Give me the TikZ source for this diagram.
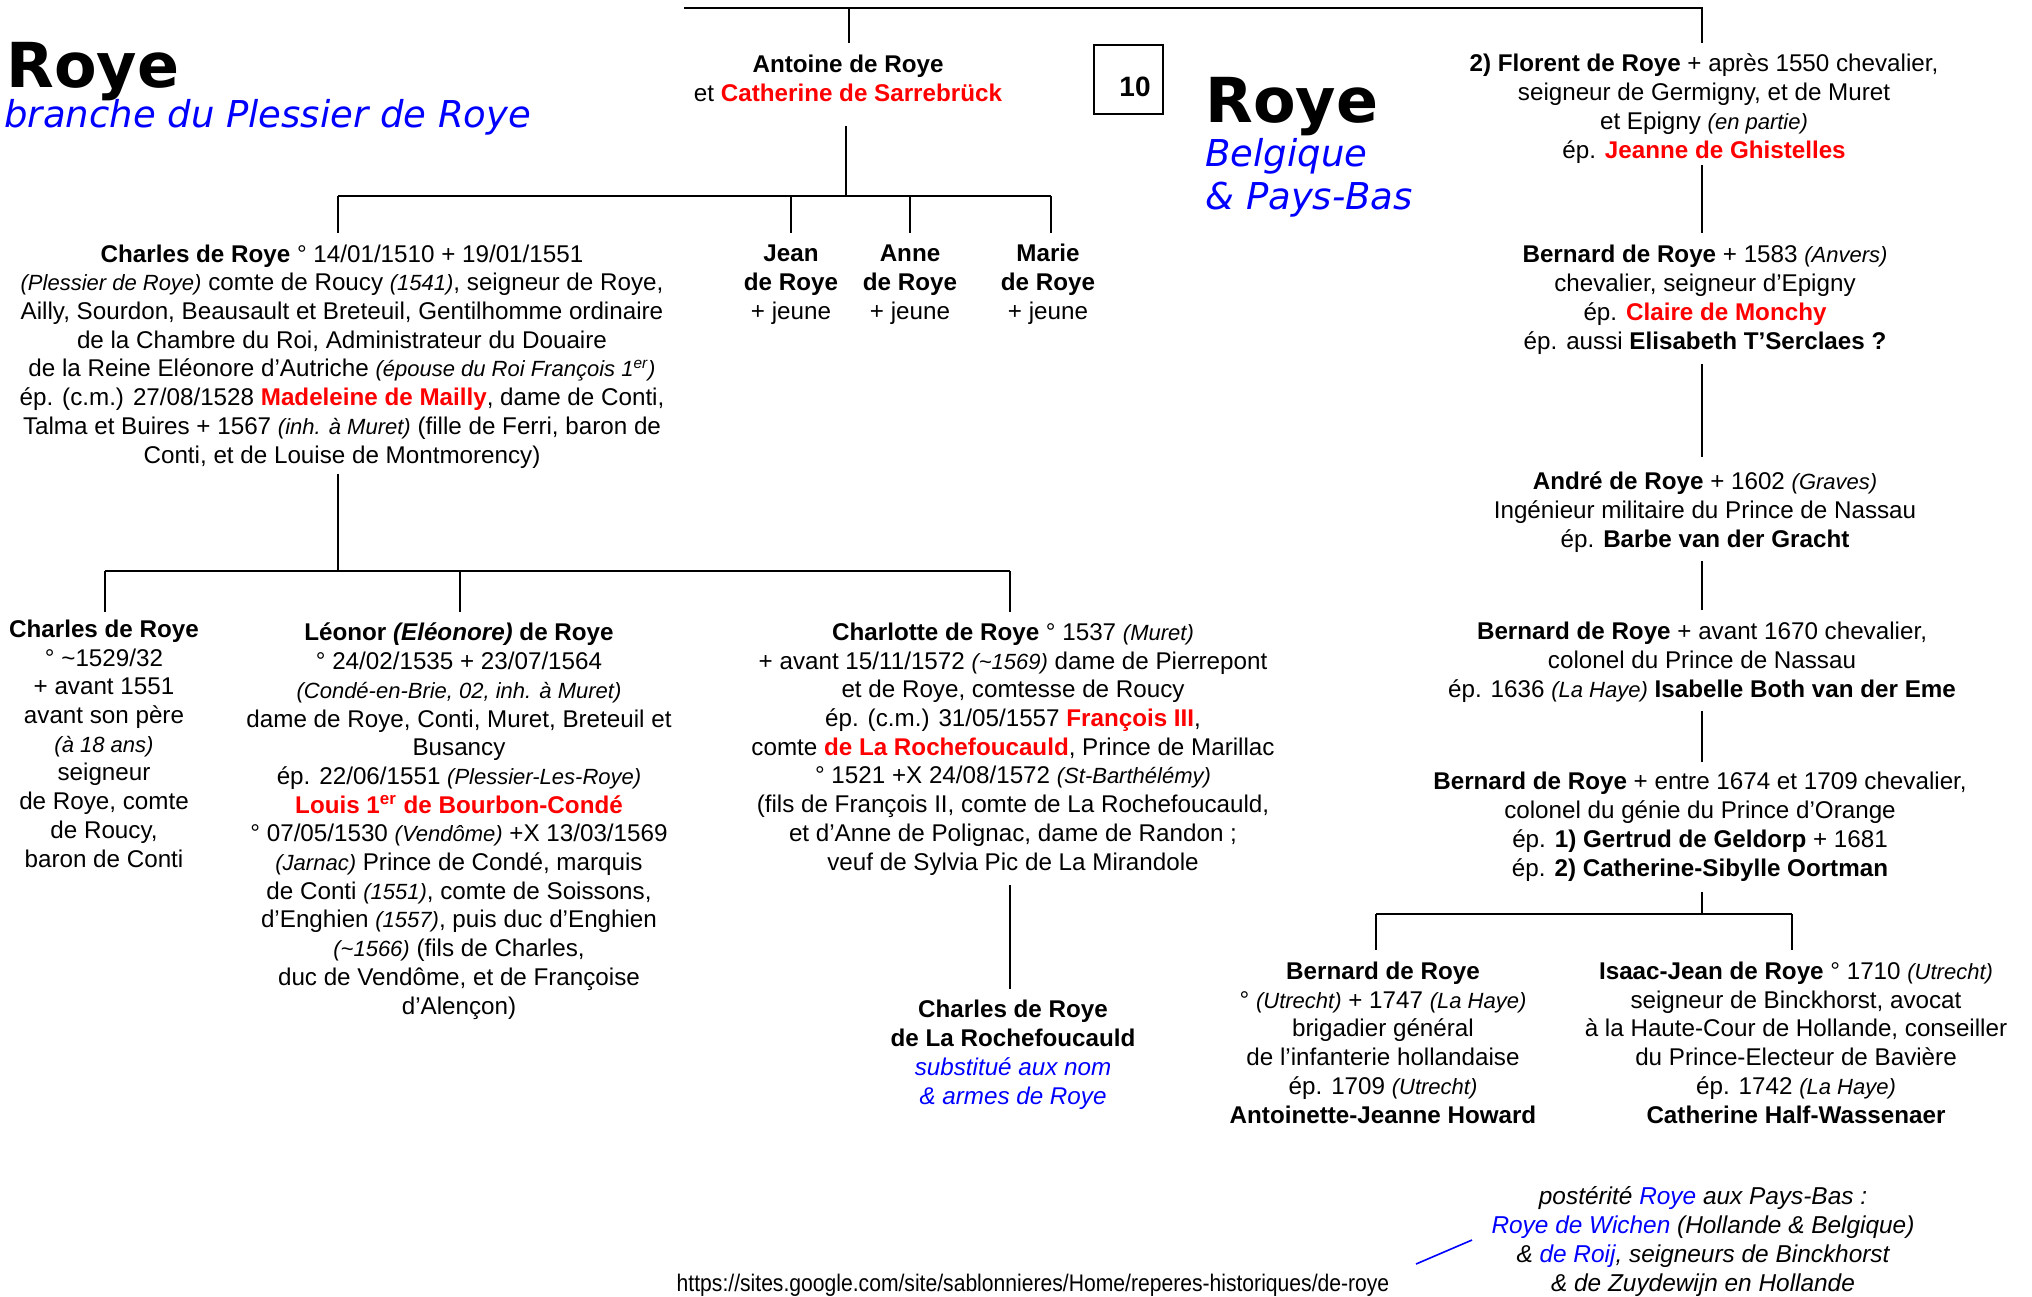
\documentclass[tikz,border=0pt]{standalone}
\usepackage{fontspec}
\setmainfont{Liberation Sans}
\newfontfamily\titlefont{DejaVu Sans}
\newfontfamily\narrowfont[FakeStretch=0.88]{Liberation Sans}
\usepackage{tikz}
\usetikzlibrary{positioning}
\definecolor{rougeroye}{HTML}{FF0000}
\definecolor{bleuroye}{HTML}{0000FF}
\newcommand{\nom}[1]{\textbf{#1}}
\newcommand{\rouge}[1]{\textcolor{rougeroye}{\textbf{#1}}}
\newcommand{\bleu}[1]{\textcolor{bleuroye}{#1}}
\newcommand{\lieu}[1]{{\fontsize{11}{14.35}\selectfont\itshape #1}}

\begin{document}
\begin{tikzpicture}[
  x=0.5pt, y=-0.5pt,
  every node/.style={font=\fontsize{12.1}{14.35}\selectfont},
  person/.style={align=center, inner sep=0pt, anchor=base},
  bigtitle/.style={font=\titlefont\bfseries\fontsize{31}{31}\selectfont, inner sep=0pt, anchor=base west},
  subtitle/.style={font=\titlefont\itshape\fontsize{18.5}{21.5}\selectfont, text=bleuroye, inner sep=0pt, anchor=base west, align=left},
  numbox/.style={draw, line width=0.8pt, minimum width=34.5pt, minimum height=34.5pt, inner sep=0pt},
  numtext/.style={font=\bfseries\fontsize{14}{14}\selectfont, inner sep=0pt, anchor=base},
  tree/.style={line width=1.2pt},
]
  \useasboundingbox (0,0) rectangle (2032,1296);

  \node[bigtitle] (titre-g) at (6,87) {Roye};
  \node[subtitle] (branche) at (4,127) {branche du Plessier de Roye};
  \node[bigtitle] (titre-d) at (1205,122) {Roye};
  \node[subtitle] (pays) at (1205,209) {Belgique\\\& Pays-Bas};
  \node[numbox] (num) at (1128.5,79.5) {};
  \node[numtext] (num-texte) at (1135,96) {10};

  \node[person] (antoine) at (848,101) {\nom{Antoine de Roye}\\et \rouge{Catherine de Sarrebrück}};
  \node[person] (charles) at (342,463) {\nom{Charles de Roye} ° 14/01/1510 + 19/01/1551\\
    \lieu{(Plessier de Roye)} comte de Roucy \lieu{(1541)}, seigneur de Roye,\\
    Ailly, Sourdon, Beausault et Breteuil, Gentilhomme ordinaire\\
    de la Chambre du Roi, Administrateur du Douaire\\
    de la Reine Eléonore d’Autriche \lieu{(épouse du Roi François 1\textsuperscript{er})}\\
    ép. (c.m.) 27/08/1528 \rouge{Madeleine de Mailly}, dame de Conti,\\
    Talma et Buires + 1567 \lieu{(inh. à Muret)} (fille de Ferri, baron de\\
    Conti, et de Louise de Montmorency)};
  \node[person] (jean) at (791,319) {\nom{Jean}\\\nom{de Roye}\\+ jeune};
  \node[person] (anne) at (910,319) {\nom{Anne}\\\nom{de Roye}\\+ jeune};
  \node[person] (marie) at (1048,319) {\nom{Marie}\\\nom{de Roye}\\+ jeune};

  \node[person] (enfant) at (104,867) {\nom{Charles de Roye}\\° \textasciitilde1529/32\\+ avant 1551\\avant son père\\
    \lieu{(à 18 ans)}\\seigneur\\de Roye, comte\\de Roucy,\\baron de Conti};
  \node[person] (leonor) at (459,1014) {\nom{Léonor \textit{(Eléonore)} de Roye}\\
    ° 24/02/1535 + 23/07/1564\\
    \lieu{(Condé-en-Brie, 02, inh. à Muret)}\\
    dame de Roye, Conti, Muret, Breteuil et\\
    Busancy\\
    ép. 22/06/1551 \lieu{(Plessier-Les-Roye)}\\
    \rouge{Louis 1\textsuperscript{er} de Bourbon-Condé}\\
    ° 07/05/1530 \lieu{(Vendôme)} +X 13/03/1569\\
    \lieu{(Jarnac)} Prince de Condé, marquis\\
    de Conti \lieu{(1551)}, comte de Soissons,\\
    d’Enghien \lieu{(1557)}, puis duc d’Enghien\\
    \lieu{(\textasciitilde1566)} (fils de Charles,\\
    duc de Vendôme, et de Françoise\\
    d’Alençon)};
  \node[person] (charlotte) at (1013,870) {\nom{Charlotte de Roye} ° 1537 \lieu{(Muret)}\\
    + avant 15/11/1572 \lieu{(\textasciitilde1569)} dame de Pierrepont\\
    et de Roye, comtesse de Roucy\\
    ép. (c.m.) 31/05/1557 \rouge{François III},\\
    comte \rouge{de La Rochefoucauld}, Prince de Marillac\\
    ° 1521 +X 24/08/1572 \lieu{(St-Barthélémy)}\\
    (fils de François II, comte de La Rochefoucauld,\\
    et d’Anne de Polignac, dame de Randon ;\\
    veuf de Sylvia Pic de La Mirandole};
  \node[person] (rochefoucauld) at (1013,1104) {\nom{Charles de Roye}\\\nom{de La Rochefoucauld}\\
    \bleu{\textit{substitué aux nom}}\\\bleu{\textit{\& armes de Roye}}};

  \node[person] (florent) at (1704,158) {\nom{2) Florent de Roye} + après 1550 chevalier,\\
    seigneur de Germigny, et de Muret\\
    et Epigny \lieu{(en partie)}\\
    ép. \rouge{Jeanne de Ghistelles}};
  \node[person] (bernard1) at (1705,349) {\nom{Bernard de Roye} + 1583 \lieu{(Anvers)}\\
    chevalier, seigneur d’Epigny\\
    ép. \rouge{Claire de Monchy}\\
    ép. aussi \nom{Elisabeth T’Serclaes ?}};
  \node[person] (andre) at (1705,547) {\nom{André de Roye} + 1602 \lieu{(Graves)}\\
    Ingénieur militaire du Prince de Nassau\\
    ép. \nom{Barbe van der Gracht}};
  \node[person] (bernard2) at (1702,697) {\nom{Bernard de Roye} + avant 1670 chevalier,\\
    colonel du Prince de Nassau\\
    ép. 1636 \lieu{(La Haye)} \nom{Isabelle Both van der Eme}};
  \node[person] (bernard3) at (1700,876) {\nom{Bernard de Roye} + entre 1674 et 1709 chevalier,\\
    colonel du génie du Prince d’Orange\\
    ép. \nom{1) Gertrud de Geldorp} + 1681\\
    ép. \nom{2) Catherine-Sibylle Oortman}};
  \node[person] (bernard4) at (1383,1123) {\nom{Bernard de Roye}\\
    ° \lieu{(Utrecht)} + 1747 \lieu{(La Haye)}\\
    brigadier général\\
    de l’infanterie hollandaise\\
    ép. 1709 \lieu{(Utrecht)}\\
    \nom{Antoinette-Jeanne Howard}};
  \node[person] (isaac) at (1796,1123) {\nom{Isaac-Jean de Roye} ° 1710 \lieu{(Utrecht)}\\
    seigneur de Binckhorst, avocat\\
    à la Haute-Cour de Hollande, conseiller\\
    du Prince-Electeur de Bavière\\
    ép. 1742 \lieu{(La Haye)}\\
    \nom{Catherine Half-Wassenaer}};

  \node[person, font=\fontsize{12.2}{14.45}\selectfont\itshape] (posterite) at (1703,1291) {postérité \bleu{Roye} aux Pays-Bas :\\
    \bleu{Roye de Wichen} (Hollande \& Belgique)\\
    \& \bleu{de Roij}, seigneurs de Binckhorst\\
    \& de Zuydewijn en Hollande};
  \node[person, font=\narrowfont\fontsize{12}{12}\selectfont] (url) at (1033,1291) {https://sites.google.com/site/sablonnieres/Home/reperes-historiques/de-roye};

  \coordinate (top-g) at (684,8);
  \coordinate (top-d) at (1702,8);
  \coordinate (antoine-haut) at (849,43);
  \coordinate (florent-haut) at (1702,43);
  \draw[tree] (top-g) -- (top-d) -- (florent-haut);
  \draw[tree] (antoine-haut |- top-g) -- (antoine-haut);

  \coordinate (antoine-pied) at (846,126);
  \coordinate (fr1-g) at (338,196);
  \coordinate (fr1-d) at (1051,196);
  \coordinate (charles-haut) at (338,233);
  \coordinate (jean-haut) at (791,233);
  \coordinate (anne-haut) at (910,233);
  \coordinate (marie-haut) at (1051,233);
  \draw[tree] (antoine-pied) -- (antoine-pied |- fr1-g);
  \draw[tree] (fr1-g) -- (fr1-d);
  \foreach \n in {charles,jean,anne,marie}
    \draw[tree] (\n-haut |- fr1-g) -- (\n-haut);

  \coordinate (charles-pied) at (338,474);
  \coordinate (fr2-g) at (105,571);
  \coordinate (fr2-d) at (1010,571);
  \coordinate (enfant-haut) at (105,612);
  \coordinate (leonor-haut) at (460,612);
  \coordinate (charlotte-haut) at (1010,612);
  \draw[tree] (charles-pied) -- (charles-pied |- fr2-g);
  \draw[tree] (fr2-g) -- (fr2-d);
  \foreach \n in {enfant,leonor,charlotte}
    \draw[tree] (\n-haut |- fr2-g) -- (\n-haut);

  \coordinate (charlotte-pied) at (1010,885);
  \coordinate (rochefoucauld-haut) at (1010,989);
  \draw[tree] (charlotte-pied) -- (rochefoucauld-haut);

  \coordinate (florent-pied) at (1702,165);
  \coordinate (bernard1-haut) at (1702,233);
  \coordinate (bernard1-pied) at (1702,364);
  \coordinate (andre-haut) at (1702,457);
  \coordinate (andre-pied) at (1702,561);
  \coordinate (bernard2-haut) at (1702,610);
  \coordinate (bernard2-pied) at (1702,711);
  \coordinate (bernard3-haut) at (1702,762);
  \draw[tree] (florent-pied) -- (bernard1-haut);
  \draw[tree] (bernard1-pied) -- (andre-haut);
  \draw[tree] (andre-pied) -- (bernard2-haut);
  \draw[tree] (bernard2-pied) -- (bernard3-haut);

  \coordinate (bernard3-pied) at (1702,892);
  \coordinate (fr3-g) at (1376,914);
  \coordinate (fr3-d) at (1792,914);
  \coordinate (bernard4-haut) at (1376,950);
  \coordinate (isaac-haut) at (1792,950);
  \draw[tree] (bernard3-pied) -- (bernard3-pied |- fr3-g);
  \draw[tree] (fr3-g) -- (fr3-d);
  \foreach \n in {bernard4,isaac}
    \draw[tree] (\n-haut |- fr3-g) -- (\n-haut);

  \coordinate (renvoi-a) at (1416,1264);
  \coordinate (renvoi-b) at (1472,1240);
  \draw[bleuroye, line width=0.8pt] (renvoi-a) -- (renvoi-b);
\end{tikzpicture}
\end{document}
